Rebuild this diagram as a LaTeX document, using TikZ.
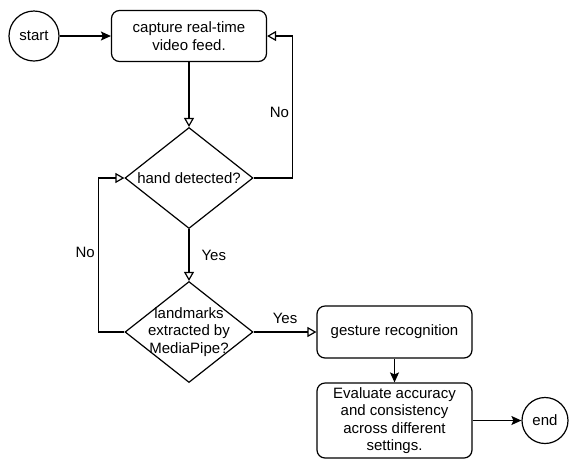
\documentclass[tikz,border=0pt]{standalone}
\usepackage{fontspec}
\setmainfont{Liberation Sans}
\usetikzlibrary{shapes.geometric,arrows.meta}

\begin{document}
\begin{tikzpicture}[x=1pt,y=-1pt,line width=1.2pt,
    font=\fontsize{15}{17.5}\selectfont,
    term/.style={draw,circle,inner sep=0pt},
    proc/.style={draw,rounded corners=8pt,align=center,minimum width=155pt,inner sep=2pt},
    test/.style={draw,diamond,minimum width=128pt,minimum height=101pt,inner sep=0pt},
    every label/.style={align=center},
    lbl/.style={inner sep=0pt},
    open/.style={-{Triangle[open,length=9pt,width=10pt]}},
    flow/.style={-{Stealth[length=10pt,width=9pt,inset=2pt]}}]
    \useasboundingbox (0,0) rectangle (572,459);
    \node[term,minimum size=50pt] (start) at (34,36) {start};
    \node[proc,minimum height=51pt] (cap) at (189,36) {capture real-time\\video feed.};
    \node[test,label={center:hand detected?}] (d1) at (189,178) {};
    \node[test,label={center:landmarks\\extracted by\\MediaPipe?}] (d2) at (189,332) {};
    \node[proc,minimum height=52pt] (ges) at (394.5,332) {gesture recognition};
    \node[proc,minimum height=75pt] (eval) at (394.5,420.5) {Evaluate accuracy\\and consistency\\across different\\settings.};
    \node[term,minimum size=46pt] (end) at (545,420.5) {end};
    \draw[flow] (start) -- (cap);
    \draw[open] (cap) -- (d1);
    \draw[open] (d1.east) -- ++(39,0) |- node[lbl,pos=0.23,left=3pt] {No} (cap.east);
    \draw[open] (d1) -- node[lbl,right=12pt] {Yes} (d2);
    \draw[open] (d2.west) -- ++(-26,0) |- node[lbl,pos=0.26,left=3pt] {No} (d1.west);
    \draw[open] (d2) -- node[lbl,above=8pt] {Yes} (ges);
    \draw[flow] (ges) -- (eval);
    \draw[flow] (eval) -- (end);
\end{tikzpicture}
\end{document}
